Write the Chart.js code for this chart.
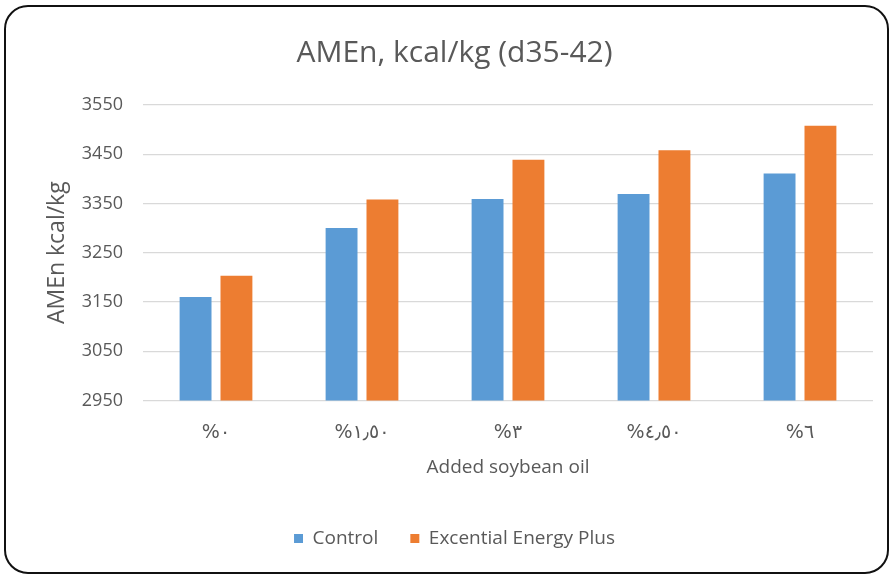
<!DOCTYPE html>
<html>
<head>
<meta charset="utf-8">
<script src="https://cdn.jsdelivr.net/npm/chart.js@4"></script>
<style>
  html, body { margin: 0; padding: 0; background: #fff; }
  #wrap { position: relative; width: 894px; height: 578px; }
  #frame { position: absolute; left: 4px; top: 5px; width: 881px; height: 565px; border: 2.5px solid #111; border-radius: 24px; pointer-events: none; }
  canvas { position: absolute; left: 0; top: 0; }
</style>
</head>
<body>
<div id="wrap">
  <canvas id="c" width="894" height="578"></canvas>
  <div id="frame"></div>
</div>
<script>
const categories = ["%٠", "%١٫٥٠", "%٣", "%٤٫٥٠", "%٦"];
const controlValues = [3160, 3300, 3359, 3369, 3411];
const energyPlusValues = [3203, 3358, 3439, 3458, 3508];
const yTicks = [2950, 3050, 3150, 3250, 3350, 3450, 3550];
const seriesNames = ["Control", "Excential Energy Plus"];

const FONT = "'Open Sans', Lato, sans-serif";
const GREY = "#595959";

new Chart(document.getElementById("c"), {
  type: "bar",
  data: {
    labels: categories,
    datasets: [
      { label: seriesNames[0], data: controlValues, backgroundColor: "#5b9bd5", categoryPercentage: 0.56, barPercentage: 0.78 },
      { label: seriesNames[1], data: energyPlusValues, backgroundColor: "#ed7d31", categoryPercentage: 0.56, barPercentage: 0.78 }
    ]
  },
  options: {
    responsive: false,
    animation: false,
    layout: { padding: { top: 35, left: 36, right: 21, bottom: 20 } },
    plugins: {
      title: {
        display: true,
        text: "AMEn, kcal/kg (d35-42)",
        color: GREY,
        font: { family: FONT, size: 30, weight: "normal" },
        padding: { top: 0, bottom: 34 }
      },
      legend: {
        position: "bottom",
        labels: {
          color: GREY,
          font: { family: FONT, size: 19 },
          boxWidth: 9,
          boxHeight: 9,
          padding: 32
        }
      },
      tooltip: { enabled: false }
    },
    scales: {
      x: {
        grid: { display: false, drawTicks: false },
        border: { display: false },
        ticks: { color: GREY, font: { family: "'DejaVu Sans', " + FONT, size: 19 }, padding: 21 },
        title: { display: true, text: "Added soybean oil", color: GREY, font: { family: FONT, size: 19 }, padding: { top: -9, bottom: 18 } }
      },
      y: {
        min: 2950,
        max: 3550,
        afterBuildTicks: (s) => { s.ticks = yTicks.map(v => ({ value: v })); },
        afterFit: (s) => { s.width = 107; },
        grid: { color: "#d9d9d9", lineWidth: 1.2, drawTicks: false },
        border: { display: false },
        ticks: { color: GREY, font: { family: FONT, size: 18 }, padding: 20, callback: (v) => String(v) },
        title: { display: true, text: "AMEn kcal/kg", color: GREY, font: { family: FONT, size: 23 }, padding: { top: 8, bottom: 0 } }
      }
    }
  }
});
</script>
</body>
</html>
